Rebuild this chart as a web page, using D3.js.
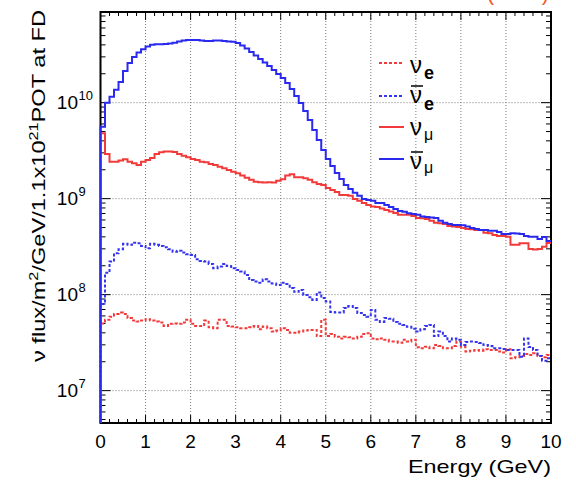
<!DOCTYPE html>
<html>
<head>
<meta charset="utf-8">
<script src="https://cdn.jsdelivr.net/npm/d3@7/dist/d3.min.js"></script>
<style>
  body { margin: 0; background: #fff; }
  svg { display: block; }
  text { font-family: "Liberation Sans", Arial, Helvetica, sans-serif; fill: #000; }
</style>
</head>
<body>
<div id="chart"></div>
<script>
// flux per 0.1 GeV bin, 0..10 GeV
var binWidth = 0.1;

var numuBar = [5.6e9,1.0e10,1.15e10,1.36e10,1.64e10,2.14e10,2.59e10,2.99e10,3.33e10,3.6e10,
  3.85e10,4.0e10,4.06e10,4.06e10,4.09e10,4.14e10,4.22e10,4.34e10,4.43e10,4.5e10,
  4.5e10,4.5e10,4.45e10,4.4e10,4.4e10,4.43e10,4.43e10,4.4e10,4.34e10,4.3e10,
  4.19e10,3.94e10,3.67e10,3.38e10,3.1e10,2.85e10,2.62e10,2.41e10,2.19e10,1.99e10,
  1.81e10,1.6e10,1.39e10,1.17e10,9.93e9,8.2e9,6.6e9,5.2e9,4.09e9,3.22e9,
  2.59e9,2.19e9,1.85e9,1.6e9,1.39e9,1.26e9,1.15e9,1.07e9,9.9e8,9.7e8,
  9.5e8,9.0e8,9.0e8,8.6e8,8.2e8,7.8e8,7.45e8,7.3e8,7.05e8,6.9e8,
  6.78e8,6.5e8,6.45e8,6.37e8,6.3e8,5.87e8,5.6e8,5.46e8,5.33e8,5.33e8,
  5.27e8,5.12e8,4.96e8,4.84e8,4.72e8,4.72e8,4.62e8,4.62e8,4.5e8,4.29e8,
  4.29e8,4.36e8,4.34e8,4.29e8,4.09e8,4.02e8,4.02e8,3.8e8,3.99e8,3.63e8];

var numu = [4.8e9,2.92e9,2.43e9,2.43e9,2.49e9,2.57e9,2.43e9,2.34e9,2.24e9,2.43e9,
  2.53e9,2.65e9,2.92e9,3.04e9,3.09e9,3.09e9,3.06e9,2.92e9,2.8e9,2.7e9,
  2.59e9,2.53e9,2.43e9,2.39e9,2.3e9,2.24e9,2.15e9,2.07e9,1.99e9,1.91e9,
  1.84e9,1.74e9,1.65e9,1.57e9,1.5e9,1.48e9,1.47e9,1.48e9,1.47e9,1.54e9,
  1.59e9,1.74e9,1.8e9,1.67e9,1.67e9,1.63e9,1.57e9,1.48e9,1.42e9,1.39e9,
  1.29e9,1.23e9,1.17e9,1.09e9,1.09e9,1.07e9,9.9e8,9.5e8,9.0e8,8.6e8,
  8.3e8,8.2e8,7.9e8,7.6e8,7.33e8,7.1e8,6.78e8,6.78e8,6.78e8,6.6e8,
  6.3e8,6.25e8,6.15e8,5.87e8,5.6e8,5.55e8,5.46e8,5.2e8,5.12e8,5.08e8,
  4.96e8,4.84e8,4.8e8,4.72e8,4.72e8,4.4e8,4.36e8,4.19e8,4.09e8,4.09e8,
  4.0e8,3.3e8,3.3e8,3.43e8,3.43e8,2.99e8,2.96e8,2.99e8,3.16e8,3.45e8];

var nueBar = [8.0e7,1.69e8,2.21e8,2.7e8,2.97e8,3.38e8,3.3e8,3.48e8,3.43e8,3.22e8,
  3.04e8,3.38e8,3.3e8,3.22e8,3.12e8,2.97e8,2.8e8,2.87e8,2.74e8,2.63e8,
  2.59e8,2.34e8,2.24e8,2.21e8,2.09e8,1.88e8,1.96e8,2.09e8,1.99e8,1.88e8,
  1.81e8,1.74e8,1.6e8,1.42e8,1.37e8,1.33e8,1.45e8,1.37e8,1.31e8,1.26e8,
  1.33e8,1.29e8,1.17e8,1.07e8,1.12e8,9.9e7,9.4e7,8.8e7,1.05e8,9.2e7,
  8.47e7,6.6e7,6.5e7,6.5e7,7.25e7,7.6e7,7.25e7,6.45e7,6.15e7,5.9e7,
  6.9e7,5.46e7,5.2e7,5.7e7,5.6e7,5.2e7,4.96e7,4.84e7,4.62e7,4.4e7,
  4.12e7,4.36e7,4.72e7,4.84e7,3.7e7,4.12e7,3.7e7,3.24e7,3.5e7,3.38e7,
  2.99e7,3.22e7,3.24e7,3.22e7,3.14e7,2.99e7,2.92e7,2.76e7,2.76e7,2.72e7,
  2.65e7,2.65e7,2.65e7,2.26e7,3.5e7,2.85e7,2.65e7,2.3e7,2.05e7,2.17e7];

var nue = [5.0e7,5.46e7,5.9e7,6.3e7,6.5e7,6.3e7,5.7e7,5.37e7,5.24e7,5.37e7,
  5.55e7,5.37e7,5.24e7,5.12e7,4.72e7,4.96e7,5.0e7,4.96e7,5.12e7,5.46e7,
  4.96e7,4.72e7,4.72e7,5.37e7,4.57e7,4.47e7,5.46e7,5.46e7,4.72e7,4.65e7,
  4.57e7,4.47e7,4.47e7,4.57e7,4.72e7,4.36e7,4.65e7,4.47e7,4.12e7,4.22e7,
  4.47e7,4.29e7,4.02e7,4.02e7,4.12e7,4.22e7,4.29e7,4.29e7,3.7e7,5.46e7,
  3.7e7,3.9e7,3.65e7,3.5e7,3.65e7,3.6e7,3.5e7,3.65e7,3.9e7,3.96e7,
  3.5e7,3.43e7,3.5e7,3.38e7,3.24e7,3.24e7,3.16e7,3.38e7,3.24e7,3.38e7,
  2.83e7,2.76e7,2.87e7,2.76e7,2.99e7,2.92e7,2.76e7,2.76e7,2.92e7,3.24e7,
  2.87e7,2.55e7,2.61e7,2.65e7,2.61e7,2.7e7,2.65e7,2.65e7,2.55e7,2.49e7,
  2.7e7,2.17e7,2.23e7,2.3e7,2.41e7,2.35e7,2.45e7,2.3e7,2.23e7,2.35e7];

var xTicks = [0,1,2,3,4,5,6,7,8,9,10];
var yTicks = [1e7,1e8,1e9,1e10];
var yTickExp = ["7","8","9","10"];

var width = 576, height = 482;
var padL = 100.5, padR = 551, padT = 12, padB = 423;
var yMin = 4.6e6, yMax = 8.8e10;

var svg = d3.select("#chart").append("svg")
  .attr("width", width)
  .attr("height", height);

var x = d3.scaleLinear().domain([0,10]).range([padL,padR]);
var y = d3.scaleLog().domain([yMin, yMax]).range([padB,padT]);

//grid
var grid = svg.append("g")
  .attr("stroke","#7a7a7a")
  .attr("stroke-width",1)
  .attr("stroke-dasharray","1,2");
xTicks.slice(1,-1).forEach(function(t) {
  grid.append("line").attr("x1",x(t)).attr("x2",x(t)).attr("y1",padT).attr("y2",padB);
});
yTicks.forEach(function(t) {
  grid.append("line").attr("x1",padL).attr("x2",padR).attr("y1",y(t)).attr("y2",y(t));
});

//ticks (inside, on all four sides)
var tk = svg.append("g").attr("stroke","#000").attr("stroke-width",1);
d3.range(0,10.01,0.2).forEach(function(t) {
  var major = Math.abs(t - Math.round(t)) < 1e-6, len = major ? 8 : 4;
  tk.append("line").attr("x1",x(t)).attr("x2",x(t)).attr("y1",padB).attr("y2",padB-len);
  tk.append("line").attr("x1",x(t)).attr("x2",x(t)).attr("y1",padT).attr("y2",padT+len);
});
var yMinor = [];
for (var n = 6; n <= 10; n++) {
  for (var m = 1; m <= 9; m++) {
    var v = m*Math.pow(10,n);
    if (v >= yMin && v <= yMax) yMinor.push({v:v, major:m==1});
  }
}
yMinor.forEach(function(d) {
  var len = d.major ? 10 : 5;
  tk.append("line").attr("x1",padL).attr("x2",padL+len).attr("y1",y(d.v)).attr("y2",y(d.v));
  tk.append("line").attr("x1",padR).attr("x2",padR-len).attr("y1",y(d.v)).attr("y2",y(d.v));
});

//histograms
svg.append("clipPath").attr("id","plotclip").append("rect")
  .attr("x",padL-2).attr("y",padT).attr("width",padR-padL+2).attr("height",padB-padT);

var hist = d3.line()
  .x(function(d) { return x(d[0]); })
  .y(function(d) { return y(d[1]); })
  .curve(d3.curveStepAfter);

var makePoints = function(vals) {
  var pts = [[0, yMin]];
  vals.forEach(function(v,i) { pts.push([i*binWidth, v]); });
  pts.push([10, vals[vals.length-1]]);
  return pts;
};

var series = [
  {vals:nue,     color:"#f23a3a", dash:"3,2"},
  {vals:nueBar,  color:"#3535ee", dash:"3,2"},
  {vals:numu,    color:"#f23a3a", dash:null},
  {vals:numuBar, color:"#2a2aee", dash:null}
];

// frame first so the histogram edge at E=0 sits over it
svg.append("rect")
  .attr("x",padL).attr("y",padT).attr("width",padR-padL).attr("height",padB-padT)
  .attr("fill","none").attr("stroke","#000").attr("stroke-width",2);

svg.append("g").attr("clip-path","url(#plotclip)")
  .selectAll("path").data(series).enter().append("path")
  .attr("d", function(d) { return hist(makePoints(d.vals)); })
  .attr("fill","none")
  .attr("stroke", function(d) { return d.color; })
  .attr("stroke-width",2)
  .attr("stroke-dasharray", function(d) { return d.dash; });

//x labels
svg.append("g").selectAll("text").data(xTicks).enter().append("text")
  .attr("x", function(d) { return x(d); })
  .attr("y", 448)
  .attr("text-anchor","middle")
  .style("font-size","19px")
  .text(function(d) { return d; });

svg.append("text")
  .attr("x", 408).attr("y", 472.5)
  .attr("textLength",143)
  .attr("lengthAdjust","spacingAndGlyphs")
  .style("font-size","19px")
  .text("Energy (GeV)");

//y labels
var yl = svg.append("g").selectAll("g").data(yTicks).enter().append("g");
yl.append("text")
  .attr("x",78).attr("y",function(d) { return y(d)+6; })
  .attr("text-anchor","end")
  .style("font-size","19px")
  .text("10");
yl.append("text")
  .attr("x",78.5).attr("y",function(d) { return y(d)-3; })
  .style("font-size","13px")
  .text(function(d,i) { return yTickExp[i]; });

//y title
var yt = svg.append("text")
  .attr("transform","translate(45,362) rotate(-90)")
  .attr("textLength",352)
  .attr("lengthAdjust","spacingAndGlyphs")
  .style("font-size","19px");
yt.append("tspan").text("\u03bd flux/m");
yt.append("tspan").attr("dy",-7).style("font-size","13px").text("2");
yt.append("tspan").attr("dy",7).text("/GeV/1.1x10");
yt.append("tspan").attr("dy",-7).style("font-size","13px").text("21");
yt.append("tspan").attr("dy",7).text("POT at FD");

// beam-mode label, cut off by the top edge (only the brackets show)
svg.append("text")
  .attr("x",549).attr("y",0)
  .attr("text-anchor","end")
  .style("font-size","22px")
  .style("fill","#ec5a2a")
  .text("(RHC)");

//legend
var legend = [
  {color:"#f23a3a", dash:"3,2", ly:63,  nuy:73,    sub:"e",      suby:78.5, bar:false, bold:true},
  {color:"#3535ee", dash:"3,2", ly:96,  nuy:102.5, sub:"e",      suby:110,  bar:true,  bold:true},
  {color:"#f23a3a", dash:null,  ly:127, nuy:135,   sub:"\u03bc", suby:140,  bar:false, bold:false},
  {color:"#2a2aee", dash:null,  ly:159, nuy:168.5, sub:"\u03bc", suby:173,  bar:true,  bold:false}
];
var lg = svg.append("g").selectAll("g").data(legend).enter().append("g");
lg.append("line")
  .attr("x1",379).attr("x2",404)
  .attr("y1",function(d) { return d.ly; }).attr("y2",function(d) { return d.ly; })
  .attr("stroke",function(d) { return d.color; })
  .attr("stroke-width",2)
  .attr("stroke-dasharray",function(d) { return d.dash; });
lg.append("text")
  .attr("x",410).attr("y",function(d) { return d.nuy; })
  .style("font-size","24px")
  .text("\u03bd");
lg.append("text")
  .attr("x",424).attr("y",function(d) { return d.suby; })
  .style("font-size",function(d) { return d.bold ? "18px" : "16px"; })
  .style("font-weight",function(d) { return d.bold ? "bold" : "normal"; })
  .text(function(d) { return d.sub; });
lg.filter(function(d) { return d.bar; }).append("line")
  .attr("x1",411).attr("x2",423)
  .attr("y1",function(d) { return d.nuy-16.5; }).attr("y2",function(d) { return d.nuy-16.5; })
  .attr("stroke","#000").attr("stroke-width",1.5);
</script>
</body>
</html>
